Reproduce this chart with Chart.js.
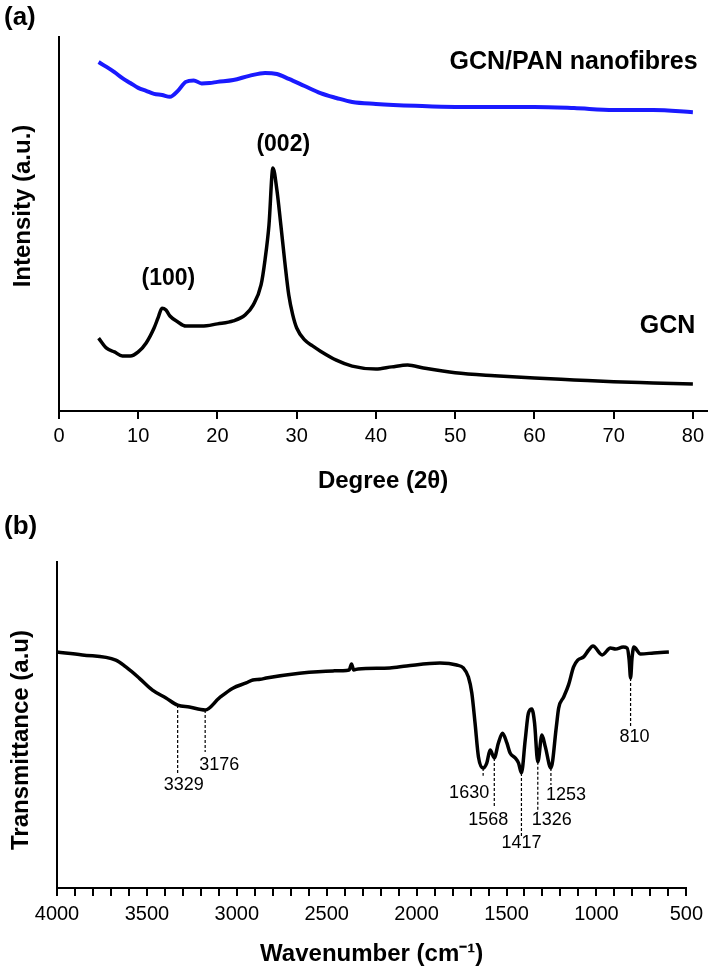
<!DOCTYPE html>
<html lang="en">
<head>
  <meta charset="UTF-8" />
  <title>GCN XRD / FTIR</title>
  <script src="https://cdn.jsdelivr.net/npm/chart.js"></script>
  <style>
    body { margin: 0; background: #fff; }
    canvas { position: absolute; left: 0; }
    #xrd { top: 0; }
    #ftir { top: 500px; }
  </style>
</head>
<body>
  <canvas id="xrd" width="709" height="500"></canvas>
  <canvas id="ftir" width="709" height="471"></canvas>

  <script>
    // ---- (a) XRD data, 2θ in degrees, intensity in arbitrary units ----
    const panDeg = [5, 6, 7, 8, 9, 10, 11, 12, 13, 14, 15, 16, 17, 18, 19, 20, 22, 24, 26, 27.5, 29, 31, 33, 35, 37, 40, 45, 50, 55, 60, 65, 70, 75, 80];
    const panInt = [93.3, 92.0, 90.6, 89.0, 87.7, 86.4, 85.6, 84.8, 84.5, 84.0, 85.6, 88.0, 88.4, 87.6, 87.7, 88.0, 88.5, 89.6, 90.4, 90.1, 88.8, 86.9, 85.0, 83.7, 82.6, 82.1, 81.6, 81.3, 81.3, 81.3, 81.0, 80.5, 80.5, 79.9];

    const gcnDeg = [5, 6, 7, 8, 9, 10, 11, 12, 12.5, 13, 13.5, 14, 15, 16, 18, 20, 22, 23.5, 24.5, 25.5, 26, 26.5, 27, 27.5, 28, 28.5, 29, 29.5, 30, 31, 32, 33, 35, 37, 40, 42, 44, 46, 50, 55, 60, 65, 70, 75, 80];
    const gcnInt = [19.5, 16.8, 15.8, 14.7, 14.7, 15.8, 18.2, 22.2, 24.9, 27.5, 27.0, 25.4, 23.8, 22.7, 22.7, 23.3, 24.1, 25.7, 28.3, 33.7, 40.4, 49.7, 65.0, 59.1, 49.7, 39.8, 31.0, 25.7, 22.2, 19.0, 17.4, 16.0, 13.6, 12.0, 11.2, 11.8, 12.3, 11.5, 10.2, 9.4, 8.8, 8.3, 7.8, 7.5, 7.2];

    const degTicks = [0, 10, 20, 30, 40, 50, 60, 70, 80];

    // ---- (b) FTIR data, wavenumber in cm-1, transmittance in arbitrary units ----
    const ftirWn = [4000, 3859, 3673, 3617, 3543, 3469, 3394, 3329, 3264, 3176, 3097, 3022, 2948, 2911, 2870, 2836, 2651, 2465, 2375, 2362, 2350, 2325, 2149, 2056, 1870, 1777, 1740, 1712, 1693, 1675, 1656, 1630, 1610, 1591, 1568, 1545, 1522, 1498, 1480, 1452, 1433, 1417, 1396, 1378, 1359, 1344, 1326, 1303, 1284, 1253, 1223, 1210, 1182, 1155, 1127, 1104, 1071, 1043, 1019, 968, 922, 894, 851, 829, 818, 810, 802, 792, 755, 681, 597];
    const ftirT = [72.4, 71.5, 69.9, 67.8, 64.4, 60.7, 58.3, 56.1, 55.5, 54.6, 58.3, 61.3, 62.9, 63.8, 64.0, 64.4, 65.9, 66.6, 66.9, 68.7, 66.9, 67.2, 67.5, 68.1, 69.0, 68.4, 67.5, 64.7, 59.8, 50.6, 40.2, 36.8, 38.3, 42.3, 39.9, 44.5, 47.5, 44.5, 41.4, 39.9, 38.3, 35.3, 45.4, 53.7, 54.9, 50.6, 38.7, 46.9, 43.3, 36.8, 49.4, 55.2, 58.6, 62.3, 67.8, 69.9, 70.9, 73.0, 74.2, 71.5, 73.6, 73.3, 73.9, 73.6, 70.0, 64.4, 70.5, 73.9, 71.8, 72.1, 72.4];

    const peakWn = [3329, 3176, 1630, 1568, 1417, 1326, 1253, 810];

    const FONT = "'Liberation Sans', Arial, sans-serif";

    // where the peak labels and their dashed leaders sit (y in axis units, dx in px)
    const peakLayout = [
      { end: 34.7, labelY: 31.6, dx: 6 },
      { end: 41.7, labelY: 37.7, dx: 14 },
      { end: 34.4, labelY: 29.1, dx: -14 },
      { end: 24.8, labelY: 20.9, dx: -6 },
      { end: 15.4, labelY: 13.8, dx: 0 },
      { end: 23.3, labelY: 20.9, dx: 14 },
      { end: 31.6, labelY: 28.5, dx: 15 },
      { end: 49.4, labelY: 46.3, dx: 4 }
    ];

    function toPoints(xs, ys) {
      return xs.map((x, i) => ({ x: x, y: ys[i] }));
    }

    function lineSet(data, color, width) {
      return {
        data: data,
        borderColor: color,
        borderWidth: width,
        pointRadius: 0,
        fill: false,
        cubicInterpolationMode: 'monotone'
      };
    }

    function axisX(opts) {
      return Object.assign({
        type: 'linear',
        ticks: { color: '#000', font: { family: FONT, size: 20 }, padding: 5, maxRotation: 0, autoSkip: false },
        grid: { display: true, drawOnChartArea: false, drawTicks: true, tickLength: 8, color: '#000', lineWidth: 2 },
        border: { display: true, color: '#000', width: 2 }
      }, opts);
    }

    function axisY(width) {
      return {
        min: 0, max: 100,
        ticks: { display: false },
        grid: { display: false },
        border: { display: true, color: '#000', width: 2 },
        afterFit: s => { s.width = width; }
      };
    }

    // draws free text (and dashed leaders) in data coordinates
    const notes = {
      id: 'notes',
      afterDatasetsDraw(chart, args, o) {
        const ctx = chart.ctx, sx = chart.scales.x, sy = chart.scales.y;
        ctx.save();
        ctx.fillStyle = '#000';
        ctx.strokeStyle = '#000';
        (o.leaders || []).forEach(l => {
          ctx.setLineDash([3, 2]);
          ctx.lineWidth = 1.2;
          ctx.beginPath();
          ctx.moveTo(sx.getPixelForValue(l.x), sy.getPixelForValue(l.y0));
          ctx.lineTo(sx.getPixelForValue(l.x), sy.getPixelForValue(l.y1));
          ctx.stroke();
        });
        ctx.setLineDash([]);
        ctx.textBaseline = 'middle';
        (o.texts || []).forEach(t => {
          ctx.font = t.font;
          ctx.textAlign = t.align || 'center';
          ctx.fillText(t.text, sx.getPixelForValue(t.x) + (t.dx || 0), sy.getPixelForValue(t.y));
        });
        if (o.panel) {
          ctx.font = 'bold 26px ' + FONT;
          ctx.textAlign = 'left';
          ctx.fillText(o.panel.text, o.panel.x, o.panel.y);
        }
        if (o.yTitle) {
          // y axis title, rotated
          ctx.font = 'bold 24px ' + FONT;
          ctx.textAlign = 'center';
          ctx.translate(o.yTitle.x, o.yTitle.y);
          ctx.rotate(-Math.PI / 2);
          ctx.fillText(o.yTitle.text, 0, 0);
        }
        ctx.restore();
      }
    };

    const boldNote = 'bold 23px ' + FONT;
    const bigNote = 'bold 25px ' + FONT;
    const titleFont = { family: FONT, size: 24, weight: 'bold' };

    new Chart(document.getElementById('xrd'), {
      type: 'line',
      data: {
        datasets: [
          lineSet(toPoints(panDeg, panInt), '#1a1aff', 4),
          lineSet(toPoints(gcnDeg, gcnInt), '#000', 3.5)
        ]
      },
      options: {
        responsive: false,
        animation: false,
        layout: { padding: { top: 37, right: 0, left: 0, bottom: 0 } },
        plugins: {
          legend: { display: false },
          tooltip: { enabled: false },
          notes: {
            panel: { text: '(a)', x: 4, y: 18 },
            yTitle: { text: 'Intensity (a.u.)', x: 23, y: 206 },
            texts: [
              { text: '(002)', x: 28.3, y: 71.1, font: boldNote },
              { text: '(100)', x: 13.8, y: 35.3, font: boldNote },
              { text: 'GCN', x: 80.3, y: 22.7, font: bigNote, align: 'right' },
              { text: 'GCN/PAN nanofibres', x: 80.6, y: 93.2, font: bigNote, align: 'right' }
            ]
          }
        },
        scales: {
          x: axisX({
            min: 0, max: 81.8,
            afterBuildTicks: s => { s.ticks = degTicks.map(v => ({ value: v })); },
            title: { display: true, text: 'Degree (2θ)', color: '#000', font: titleFont, padding: { bottom: 4 } },
            afterFit: s => { s.height = 89; }
          }),
          y: axisY(59)
        }
      },
      plugins: [notes]
    });

    new Chart(document.getElementById('ftir'), {
      type: 'line',
      data: {
        datasets: [lineSet(toPoints(ftirWn, ftirT), '#000', 3.5)]
      },
      options: {
        responsive: false,
        animation: false,
        layout: { padding: { top: 62, right: 22, left: 0, bottom: 0 } },
        plugins: {
          legend: { display: false },
          tooltip: { enabled: false },
          notes: {
            panel: { text: '(b)', x: 4, y: 27 },
            yTitle: { text: 'Transmittance (a.u)', x: 21, y: 240 },
            leaders: peakWn.map((w, i) => ({ x: w, y0: ftirT[ftirWn.indexOf(w)], y1: peakLayout[i].end })),
            texts: peakWn.map((w, i) => ({ text: String(w), x: w, y: peakLayout[i].labelY, dx: peakLayout[i].dx, font: '18px ' + FONT }))
          }
        },
        scales: {
          x: axisX({
            min: 500, max: 4000, reverse: true,
            ticks: {
              color: '#000', font: { family: FONT, size: 20 }, padding: 6, maxRotation: 0, autoSkip: false,
              stepSize: 100,
              callback: v => (v % 500 === 0 ? String(v) : '')
            },
            title: { display: true, text: 'Wavenumber (cm⁻¹)', color: '#000', font: titleFont, padding: { bottom: 2 } },
            afterFit: s => { s.height = 83; }
          }),
          y: axisY(57)
        }
      },
      plugins: [notes]
    });
  </script>
</body>
</html>
